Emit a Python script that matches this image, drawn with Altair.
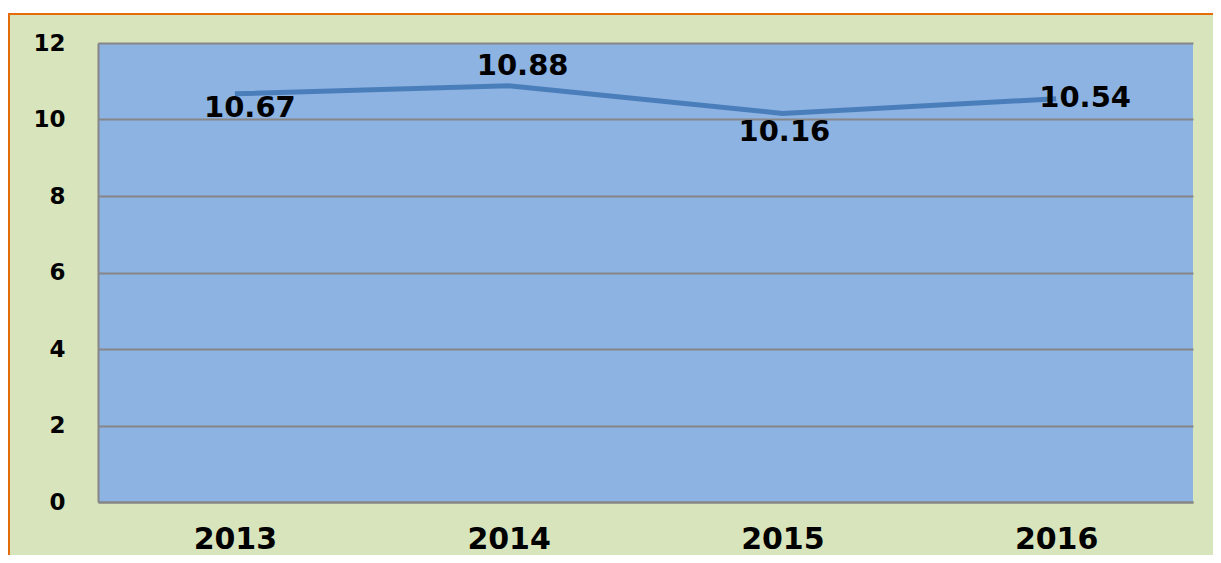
import altair as alt
import pandas as pd

years = ["2013", "2014", "2015", "2016"]
values = [10.67, 10.88, 10.16, 10.54]
y_ticks = [0, 2, 4, 6, 8, 10, 12]

df = pd.DataFrame({"year": years, "value": values})

W, H = 1095, 459
GRID = "#868686"
ORANGE = "#e46c0a"

x_enc = alt.X("year:N", sort=years,
              scale=alt.Scale(type="point", padding=0.5),
              axis=alt.Axis(title=None, labelAngle=0, labelFont="DejaVu Sans",
                            labelFontWeight="bold", labelFontSize=30, labelColor="black",
                            labelPadding=22, ticks=False, grid=False,
                            domainColor=GRID, domainWidth=2))
y_enc = alt.Y("value:Q", scale=alt.Scale(domain=[0, 12], nice=False),
              axis=alt.Axis(title=None, values=y_ticks, labelFont="DejaVu Sans",
                            labelFontWeight="bold", labelFontSize=23, labelColor="black",
                            labelPadding=33, ticks=False, grid=True,
                            gridColor=GRID, gridWidth=2,
                            domainColor=GRID, domainWidth=2))

base = alt.Chart(df)

line = base.mark_line(color="#4a7ebb", strokeWidth=5).encode(x=x_enc, y=y_enc)

label_offsets = [(15, 14), (14, -20), (2, 19), (29, -1)]
texts = []
for yr, (dx, dy) in zip(years, label_offsets):
    texts.append(
        base.transform_filter(alt.datum.year == yr)
        .mark_text(dx=dx, dy=dy, font="DejaVu Sans", fontWeight="bold",
                   fontSize=29, color="black", align="center", baseline="middle")
        .encode(x=alt.X("year:N", sort=years), y="value:Q",
                text=alt.Text("value:Q", format=".2f"))
    )

deco = alt.Chart(pd.DataFrame({"a": [0]}))
white_strip = deco.mark_rect(color="white").encode(
    x=alt.value(-90), x2=alt.value(1115), y=alt.value(-35), y2=alt.value(-30))
orange_top = deco.mark_rule(color=ORANGE, strokeWidth=2).encode(
    x=alt.value(-90), x2=alt.value(1115), y=alt.value(-29))
orange_left = deco.mark_rule(color=ORANGE, strokeWidth=2).encode(
    x=alt.value(-89), y=alt.value(-30), y2=alt.value(512))

chart = alt.layer(white_strip, orange_top, orange_left, line, *texts).properties(
    width=W, height=H,
    autosize=alt.AutoSizeParams(type="none"),
    padding={"left": 90, "top": 35, "right": 20, "bottom": 53},
    background="#d8e4bc",
).configure_view(fill="#8db3e2", strokeWidth=0)

chart.save("out.html", embed_options={"renderer": "svg", "actions": False})
